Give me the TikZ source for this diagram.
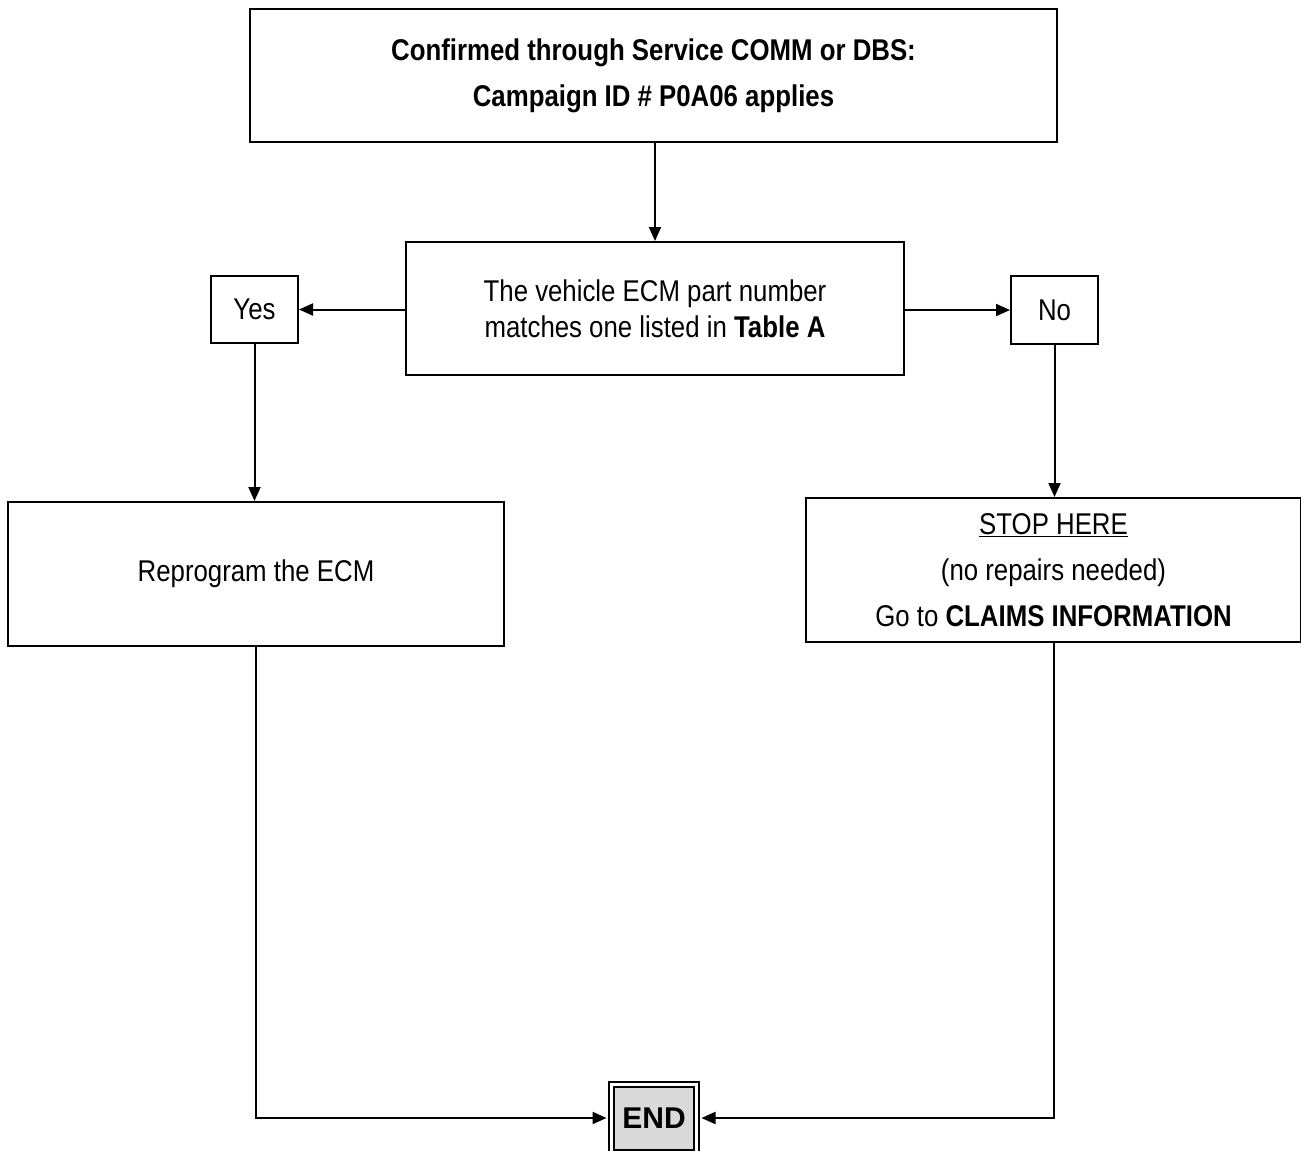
\documentclass[tikz,border=0pt]{standalone}
\usepackage{fontspec}
\setmainfont{Liberation Sans}[FakeStretch=0.86]
\newfontfamily\endfont{Liberation Sans}
\usetikzlibrary{arrows.meta,calc}
\tikzset{
  box/.style={draw=black, line width=2pt, inner sep=0pt, align=center, font=\fontsize{30}{46}\selectfont},
  conn/.style={line width=2pt},
  arr/.style={conn, -{Triangle[length=14pt,width=12pt]}},
}
\begin{document}
\begin{tikzpicture}[x=1pt,y=-1pt]
\useasboundingbox (0,0) rectangle (1301,1151);
\node[box, minimum width=807pt, minimum height=133pt] (top) at (653.5,75.5)
  {\textbf{Confirmed through Service COMM or DBS:}\\\textbf{Campaign ID \# P0A06 applies}};
\node[box, minimum width=498pt, minimum height=133pt, font=\fontsize{30}{36}\selectfont] (mid) at (655,308.5)
  {The vehicle ECM part number\\matches one listed in \textbf{Table A}};
\node[box, minimum width=87pt, minimum height=67pt] (yes) at (254.5,309.5) {Yes};
\node[box, minimum width=87pt, minimum height=68pt] (no) at (1054.5,310) {No};
\node[box, minimum width=496pt, minimum height=144pt] (rep) at (256,574) {Reprogram the ECM};
\node[box, minimum width=495pt, minimum height=144pt] (stop) at (1053.5,570)
  {\underline{STOP HERE}\\(no repairs needed)\\Go to \textbf{CLAIMS INFORMATION}};
\node[draw=black, line width=2pt, double=white, double distance=3pt, fill={rgb,255:red,217;green,217;blue,217},
  minimum width=85pt, minimum height=68pt, inner sep=0pt, font=\endfont\bfseries\fontsize{30}{36}\selectfont] (end) at (654,1118) {END};
\draw[arr] (top.south -| mid.north) -- (mid.north);
\draw[arr] (mid.west |- yes.east) -- (yes.east);
\draw[arr] (mid.east |- no.west) -- (no.west);
\draw[arr] (yes.south) -- (yes.south |- rep.north);
\draw[arr] (no.south) -- (no.south |- stop.north);
\draw[arr] (rep.south) -- (rep.south |- end.west) -- ($(end.west)+(-4,0)$);
\draw[arr] (stop.south) -- (stop.south |- end.east) -- ($(end.east)+(4,0)$);
\end{tikzpicture}
\end{document}
